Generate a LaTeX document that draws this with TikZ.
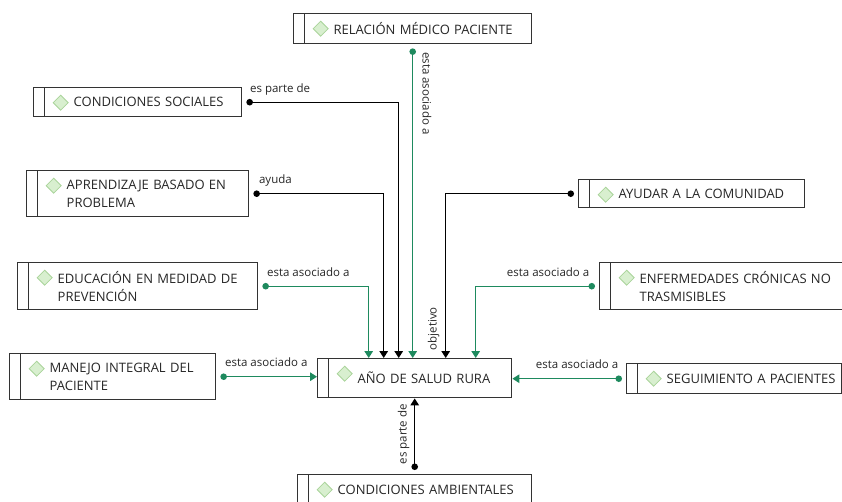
\documentclass[tikz,border=0pt]{standalone}
\usepackage{fontspec}
\newfontfamily\osans{Open Sans}
\usetikzlibrary{arrows.meta}
\definecolor{verde}{HTML}{1E8A5E}
\definecolor{borde}{HTML}{333333}
\definecolor{texto}{HTML}{262626}
\definecolor{rombofondo}{HTML}{D8EFCF}
\definecolor{romboborde}{HTML}{A9D49A}
\tikzset{
  concepto/.style={draw=borde, line width=1.4pt, anchor=north west,
    inner xsep=4pt, inner ysep=2pt, align=left, text=texto,
    font=\osans\fontsize{13}{18}\selectfont,
    execute at begin node={\leftskip=36pt\rightskip=0pt plus 1fil minus 20pt},
    path picture={
      \draw[borde, line width=1.4pt] ([xshift=11pt]path picture bounding box.north west)
        -- ([xshift=11pt]path picture bounding box.south west);
      \coordinate (r) at ([xshift=27pt,yshift=-15pt]path picture bounding box.north west);
      \filldraw[fill=rombofondo, draw=romboborde, line width=0.8pt]
        ([yshift=7.5pt]r) -- ([xshift=7.5pt]r) -- ([yshift=-7.5pt]r) -- ([xshift=-7.5pt]r) -- cycle;
    }},
  enlace/.style={line width=1.4pt, shorten <=4pt,
    {Circle[length=6.5pt]}-{Triangle[length=7pt,width=8.5pt]}},
  etiqueta/.style={text=texto, font=\osans\fontsize{11.5}{13}\selectfont, inner sep=0pt}
}
\begin{document}
\begin{tikzpicture}[x=1pt,y=-1pt]
  \useasboundingbox (0,0) rectangle (842,501);
  \clip (0,0) rectangle (842,501);
  % Conceptos
  \node[concepto, text width=230pt, minimum height=30pt] (rel) at (293,13) {RELACIÓN MÉDICO PACIENTE};
  \node[concepto, text width=200pt, minimum height=29pt] (soc) at (33,87) {CONDICIONES SOCIALES};
  \node[concepto, text width=214pt, minimum height=46pt] (apr) at (26,170) {APRENDIZAJE BASADO EN\\PROBLEMA};
  \node[concepto, text width=232pt, minimum height=47pt] (edu) at (17,262) {EDUCACIÓN EN MEDIDAD DE\\PREVENCIÓN};
  \node[concepto, text width=198pt, minimum height=46pt] (man) at (9,353) {MANEJO INTEGRAL DEL\\PACIENTE};
  \node[concepto, text width=186pt, minimum height=39pt] (ano) at (317,358) {AÑO DE SALUD RURA};
  \node[concepto, text width=226pt, minimum height=30pt] (amb) at (297,474) {CONDICIONES AMBIENTALES};
  \node[concepto, text width=218pt, minimum height=28pt] (ayu) at (578,179) {AYUDAR A LA COMUNIDAD};
  \node[concepto, text width=260pt, minimum height=47pt] (enf) at (599,262) {ENFERMEDADES CRÓNICAS NO\\TRASMISIBLES};
  \node[concepto, text width=207pt, minimum height=30pt] (seg) at (626,363) {SEGUIMIENTO A PACIENTES};
  % Enlaces desde arriba
  \draw[enlace, verde] (rel.south) -- (rel.south |- ano.north)
    node[etiqueta, pos=0, anchor=base west, xshift=10pt, yshift=-7pt, rotate=-90] {esta asociado a};
  \draw[enlace] (soc.east) -| ([xshift=-16pt]ano.north)
    node[etiqueta, pos=0, anchor=base west, xshift=7pt, yshift=10pt] {es parte de};
  \draw[enlace] (apr.east) -| ([xshift=-31pt]ano.north)
    node[etiqueta, pos=0, anchor=base west, xshift=9pt, yshift=10pt] {ayuda};
  \draw[enlace, verde] (edu.east) -| ([xshift=-46pt]ano.north)
    node[etiqueta, pos=0, anchor=base west, xshift=8pt, yshift=10pt] {esta asociado a};
  \draw[enlace] (ayu.west) -| ([xshift=31pt]ano.north)
    node[etiqueta, pos=1, anchor=base west, xshift=-9pt, yshift=7pt, rotate=90] {objetivo};
  \draw[enlace, verde] (enf.west) -| ([xshift=61pt]ano.north)
    node[etiqueta, pos=0, anchor=base east, xshift=-9pt, yshift=10pt] {esta asociado a};
  % Enlaces laterales y de abajo
  \draw[enlace, verde] (man.east) -- (man.east -| ano.west)
    node[etiqueta, pos=0, anchor=base west, xshift=8pt, yshift=10pt] {esta asociado a};
  \draw[enlace, verde] (seg.west) -- (seg.west -| ano.east)
    node[etiqueta, pos=0, anchor=base east, xshift=-7pt, yshift=10pt] {esta asociado a};
  \draw[enlace] (amb.north) -- (amb.north |- ano.south)
    node[etiqueta, pos=0, anchor=base west, xshift=-8pt, yshift=9pt, rotate=90] {es parte de};
\end{tikzpicture}
\end{document}
